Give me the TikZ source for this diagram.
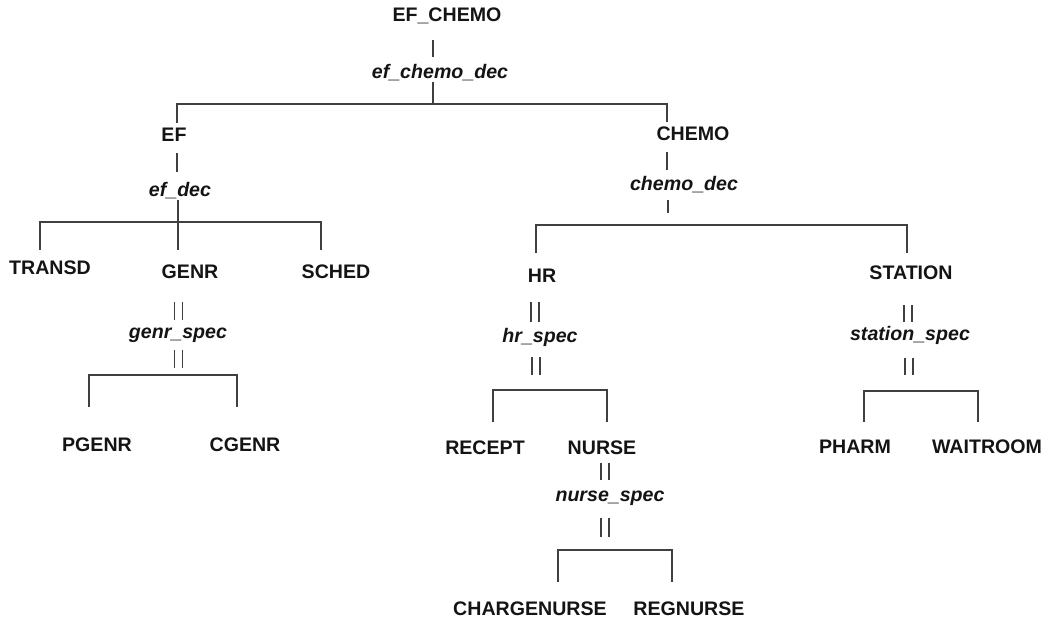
\documentclass[tikz,border=0pt]{standalone}
\usepackage{fontspec}
\setmainfont{Liberation Sans}
\begin{document}
\begin{tikzpicture}[x=0.75pt,y=-0.75pt,
  classlbl/.style={font=\fontsize{14.7}{17}\selectfont\bfseries, inner sep=0pt, anchor=base, text=black!92},
  speclbl/.style={font=\fontsize{14.7}{17}\selectfont\bfseries\itshape, inner sep=0pt, anchor=base, text=black!92},
  link/.style={draw=black!75, line width=1.1pt},
  dlink/.style={draw=black!75, line width=1pt, double, double distance=4.8pt}]
\useasboundingbox (0,0) rectangle (1047,620);

% ---- labels ----
\node[classlbl] (efchemo)     at (447,22)  {EF\_CHEMO};
\node[speclbl]  (efchemodec)  at (440,79)  {ef\_chemo\_dec};
\node[classlbl] (ef)          at (174,142) {EF};
\node[classlbl] (chemo)       at (693,141) {CHEMO};
\node[speclbl]  (efdec)       at (180,197) {ef\_dec};
\node[speclbl]  (chemodec)    at (684,191) {chemo\_dec};
\node[classlbl] (transd)      at (50,275)  {TRANSD};
\node[classlbl] (genr)        at (190,279) {GENR};
\node[classlbl] (sched)       at (336,279) {SCHED};
\node[speclbl]  (genrspec)    at (178,339) {genr\_spec};
\node[classlbl] (pgenr)       at (97,452)  {PGENR};
\node[classlbl] (cgenr)       at (245,452) {CGENR};
\node[classlbl] (hr)          at (542,283) {HR};
\node[classlbl] (station)     at (911,280) {STATION};
\node[speclbl]  (hrspec)      at (540,343) {hr\_spec};
\node[speclbl]  (stationspec) at (910,341) {station\_spec};
\node[classlbl] (recept)      at (485,455) {RECEPT};
\node[classlbl] (nurse)       at (602,455) {NURSE};
\node[classlbl] (pharm)       at (855,454) {PHARM};
\node[classlbl] (waitroom)    at (987,454) {WAITROOM};
\node[speclbl]  (nursespec)   at (610,501) {nurse\_spec};
\node[classlbl] (chargenurse) at (530,615) {CHARGENURSE};
\node[classlbl] (regnurse)    at (689,615) {REGNURSE};

% ---- connector end points ----
\coordinate (efchemo-b)    at (433,40);
\coordinate (efchemodec-t) at (433,57);
\coordinate (efchemodec-b) at (433,82);
\coordinate (root-j)       at (433,104);
\coordinate (ef-t)         at (177,123);
\coordinate (chemo-t)      at (667,122);

\coordinate (ef-b)         at (177,153);
\coordinate (efdec-t)      at (177,172);
\coordinate (efdec-b)      at (178,200);
\coordinate (genr-t)       at (178,250);
\coordinate (transd-t)     at (40,250);
\coordinate (sched-t)      at (321,250);
\coordinate (ef-bar)       at (40,222);

\coordinate (genr-b)       at (178.5,302);
\coordinate (genrspec-t)   at (178.5,320);
\coordinate (genrspec-b)   at (178.5,350);
\coordinate (genr-bar)     at (178.5,368);
\coordinate (pgenr-t)      at (89,407);
\coordinate (cgenr-t)      at (237,407);
\coordinate (genr-y)       at (89,375);

\coordinate (chemo-b)      at (667,152);
\coordinate (chemodec-t)   at (667,170);
\coordinate (chemodec-b)   at (668,200);
\coordinate (chemodec-e)   at (668,213);
\coordinate (hr-t)         at (536,253);
\coordinate (station-t)    at (907,253);
\coordinate (chemo-y)      at (536,225);

\coordinate (hr-b)         at (535,302);
\coordinate (hrspec-t)     at (535,322);
\coordinate (hrspec-b)     at (536,357);
\coordinate (hr-bar)       at (536,375);
\coordinate (recept-t)     at (493,422);
\coordinate (nurse-t)      at (607,422);
\coordinate (hr-y)         at (493,390);

\coordinate (nurse-b)      at (605,463);
\coordinate (nursespec-t)  at (605,480);
\coordinate (nursespec-b)  at (605,518);
\coordinate (nurse-bar)    at (605,537);
\coordinate (charge-t)     at (558,582);
\coordinate (reg-t)        at (672,582);
\coordinate (nurse-y)      at (558,550);

\coordinate (station-b)    at (908,305);
\coordinate (stationspec-t) at (908,322);
\coordinate (stationspec-b) at (909,358);
\coordinate (station-bar)  at (909,375);
\coordinate (pharm-t)      at (864,422);
\coordinate (waitroom-t)   at (978,422);
\coordinate (station-y)    at (864,391);

% ---- decomposition links (single lines) ----
\draw[link] (efchemo-b) -- (efchemodec-t);
\draw[link] (efchemodec-b) -- (root-j);
\draw[link] (ef-t) |- (root-j) -| (chemo-t);

\draw[link] (ef-b) -- (efdec-t);
\draw[link] (efdec-b) -- (genr-t);
\draw[link] (transd-t) -- (ef-bar) -| (sched-t);

\draw[link] (chemo-b) -- (chemodec-t);
\draw[link] (chemodec-b) -- (chemodec-e);
\draw[link] (hr-t) -- (chemo-y) -| (station-t);

% ---- specialisation links (double lines) ----
\draw[dlink] (genr-b) -- (genrspec-t);
\draw[dlink] (genrspec-b) -- (genr-bar);
\draw[link] (pgenr-t) -- (genr-y) -| (cgenr-t);

\draw[dlink] (hr-b) -- (hrspec-t);
\draw[dlink] (hrspec-b) -- (hr-bar);
\draw[link] (recept-t) -- (hr-y) -| (nurse-t);

\draw[dlink] (nurse-b) -- (nursespec-t);
\draw[dlink] (nursespec-b) -- (nurse-bar);
\draw[link] (charge-t) -- (nurse-y) -| (reg-t);

\draw[dlink] (station-b) -- (stationspec-t);
\draw[dlink] (stationspec-b) -- (station-bar);
\draw[link] (pharm-t) -- (station-y) -| (waitroom-t);
\end{tikzpicture}
\end{document}
